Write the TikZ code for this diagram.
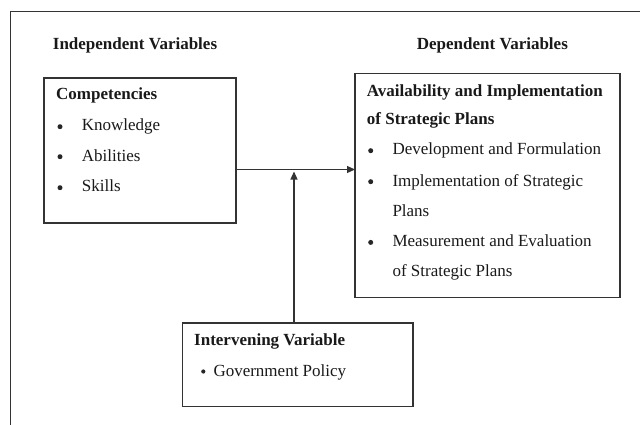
\documentclass[tikz,border=0pt]{standalone}
\usepackage{fontspec}
\setmainfont{Liberation Serif}
\usetikzlibrary{arrows.meta}

\begin{document}
\begin{tikzpicture}[x=1pt,y=1pt]
\tikzset{
  box/.style={draw=black!80, line width=1.1pt, inner sep=0pt, outer sep=0pt, anchor=north west},
  txt/.style={anchor=base west, inner sep=0pt, text=black!90, font=\fontsize{17}{20}\selectfont},
  hd/.style={txt, font=\fontsize{17}{20}\selectfont\bfseries},
  dot/.style={circle, fill=black!85, inner sep=0pt, minimum size=5pt},
  link/.style={draw=black!80, line width=1.1pt, -{Triangle[length=8pt,width=7pt]}}
}
\useasboundingbox (0,0) rectangle (640,-425);
\draw [black!80, line width=1.1pt] (10.5,-425) -- (10.5,-11.5) -- (640,-11.5);

\node [hd] (indep) at (52.7,-50) {Independent Variables};
\node [hd] (depvar) at (416.7,-49.5) {Dependent Variables};

\node [box, minimum width=192, minimum height=145] (comp) at (44,-78) {};
\node [hd] (comph) at (56,-100) {Competencies};
\node [dot] (cb1) at (60,-126.7) {};
\node [txt] (ct1) at (81.7,-131) {Knowledge};
\node [dot] (cb2) at (60,-156.7) {};
\node [txt] (ct2) at (81.7,-161) {Abilities};
\node [dot] (cb3) at (60,-187.7) {};
\node [txt] (ct3) at (81.7,-192) {Skills};

\node [box, minimum width=265, minimum height=224] (dep) at (355,-73.3) {};
\node [hd] (deph1) at (366.7,-96.7) {Availability and Implementation};
\node [hd] (deph2) at (366.7,-125) {of Strategic Plans};
\node [dot] (db1) at (370.7,-150.7) {};
\node [txt] (dt1) at (392.3,-155) {Development and Formulation};
\node [dot] (db2) at (370.7,-181.7) {};
\node [txt] (dt2) at (392.3,-186) {Implementation of Strategic};
\node [txt] (dt3) at (392.3,-216.7) {Plans};
\node [dot] (db3) at (370.7,-242.4) {};
\node [txt] (dt4) at (392.3,-246.7) {Measurement and Evaluation};
\node [txt] (dt5) at (392.3,-276.7) {of Strategic Plans};

\node [box, minimum width=230.3, minimum height=83.7] (int) at (182.7,-323) {};
\node [hd] (inth) at (194,-345) {Intervening Variable};
\node [dot, minimum size=4.2pt] (ib1) at (203.3,-371.5) {};
\node [txt] (it1) at (213.3,-376) {Government Policy};

\coordinate (j) at (294,-169.5);
\draw [link] (comp.east |- j) -- (dep.west |- j);
\draw [link] (int.north -| j) -- ([yshift=-2pt]j);

\end{tikzpicture}
\end{document}
